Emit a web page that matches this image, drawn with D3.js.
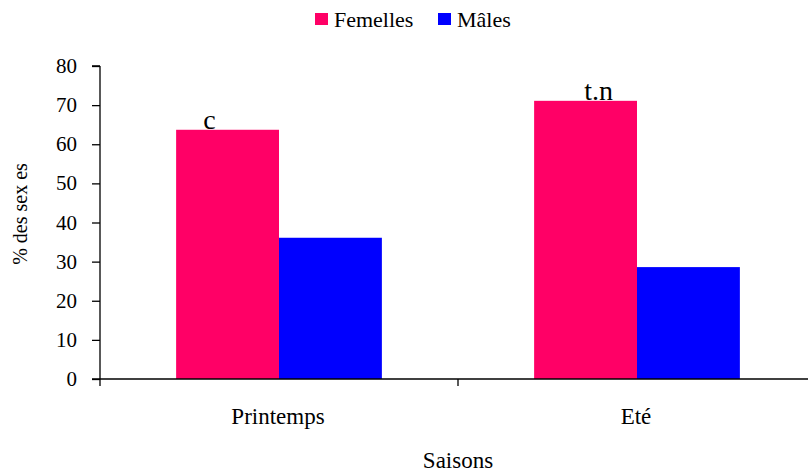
<!DOCTYPE html>
<html>
<head>
<meta charset="utf-8">
<script src="https://cdn.jsdelivr.net/npm/d3@7"></script>
<style>
  html, body { margin: 0; padding: 0; background: #fff; }
</style>
</head>
<body>
<svg id="chart" width="808" height="474"></svg>
<script>
// Sex ratio (%) per season
const seasons = ["Printemps", "Eté"];
const series = ["Femelles", "Mâles"];
const femelles = [63.7, 71.1];
const males = [36.1, 28.6];
const annotations = ["c", "t.n"];
const yTicks = [0, 10, 20, 30, 40, 50, 60, 70, 80];
const colors = ["#FF0066", "#0000FF"];

const values = [femelles, males];
const svg = d3.select("#chart");

const plot = { left: 100, right: 816, top: 66, bottom: 379 };

const x0 = d3.scaleBand().domain(seasons).range([plot.left, plot.right]).padding(0);
const x1 = d3.scaleBand().domain(series).range([0, x0.bandwidth()])
  .paddingInner(0).paddingOuter(0.74);
const y = d3.scaleLinear().domain([0, 80]).range([plot.bottom, plot.top]);

// Serif text: set at a fixed 28px face and scaled to the wanted size
const BASE = 28;
function txt(parent, x, yPos, str, size, anchor = "start", rot = 0) {
  const g = parent.append("g")
    .attr("transform", `translate(${x},${yPos}) rotate(${rot}) scale(${size / BASE})`);
  return g.append("text")
    .style("font-family", '"Liberation Serif"')
    .style("font-size", BASE + "px")
    .attr("fill", "#000")
    .attr("text-anchor", anchor)
    .text(str);
}

// Bars
const groups = svg.append("g").selectAll("g")
  .data(seasons)
  .join("g")
  .attr("transform", d => `translate(${x0(d)},0)`);

groups.selectAll("rect")
  .data((d, i) => series.map((s, j) => ({ s, v: values[j][i], j })))
  .join("rect")
  .attr("x", d => x1(d.s))
  .attr("y", d => y(d.v))
  .attr("width", x1.bandwidth())
  .attr("height", d => y(0) - y(d.v))
  .attr("fill", d => colors[d.j]);

// Significance letters above the female bars
const letterShift = [-18, 13];
seasons.forEach((s, i) => {
  txt(svg, x0(s) + x1("Femelles") + x1.bandwidth() / 2 + letterShift[i],
      y(femelles[i]) - 1, annotations[i], 28, "middle");
});

// Y axis (ticks from the axis generator, labels set in serif)
const yAxis = svg.append("g")
  .attr("transform", `translate(${plot.left},0)`)
  .call(d3.axisLeft(y).tickValues(yTicks).tickSize(8).tickFormat(""));
yAxis.selectAll("path, line").attr("stroke", "#000").attr("stroke-width", 1.3);
yAxis.select(".domain").attr("d", `M0,${plot.top}H-8M0,${plot.top}V${plot.bottom}`);
const yLabels = svg.append("g");
yTicks.forEach(v => txt(yLabels, 77, y(v) + 7, d3.format("d")(v), 21, "end"));

// X axis: ticks at category boundaries
const bounds = [plot.left, x0(seasons[1]), plot.right];
const xAxis = svg.append("g");
xAxis.append("line")
  .attr("x1", plot.left - 8).attr("x2", plot.right)
  .attr("y1", plot.bottom).attr("y2", plot.bottom)
  .attr("stroke", "#000").attr("stroke-width", 1.3);
xAxis.selectAll("line.tick")
  .data(bounds)
  .join("line")
  .attr("class", "tick")
  .attr("x1", d => d).attr("x2", d => d)
  .attr("y1", plot.bottom).attr("y2", plot.bottom + 7)
  .attr("stroke", "#000").attr("stroke-width", 1.3);
seasons.forEach(s => txt(xAxis, x0(s) + x0.bandwidth() / 2 - 1, 424, s, 23, "middle"));

// Axis titles
txt(svg, 458, 468, "Saisons", 23, "middle");
txt(svg, 27, 214, "% des sex es", 20, "middle", -90);

// Legend
const legend = svg.append("g");
const legendX = [315, 438];
series.forEach((s, i) => {
  legend.append("rect")
    .attr("x", legendX[i]).attr("y", 13)
    .attr("width", 13).attr("height", 12)
    .attr("fill", colors[i]);
  txt(legend, legendX[i] + 19, 27, s, 22);
});
</script>
</body>
</html>
